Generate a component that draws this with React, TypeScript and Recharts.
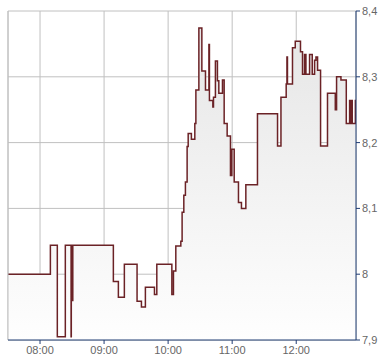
import { ComposedChart, Area, XAxis, YAxis, CartesianGrid, ReferenceLine } from "recharts";

// minutes since midnight
const times = [
  450, 489.7, 496.2, 503.7, 509.1, 509.3, 510, 510.7, 548.7, 553.4,
  559, 570.9, 575, 578.7, 587.2, 589.4, 603.5, 605, 607.2, 611.9,
  613.1, 614.7, 616.2, 617.8, 618.8, 621.8, 625, 626, 628.8, 631.6,
  635, 638.2, 638.7, 641.9, 642.5, 644.3, 646.2, 647.5, 650.9, 652.5,
  655.3, 658.4, 659.7, 661.9, 665.9, 668.7, 672.8, 683.7, 702.5, 705.7,
  710.6, 711.3, 711.8, 716.5, 719.1, 724, 725.9, 727.8, 729.1, 732.5,
  735, 737.2, 738.5, 740, 742.8, 749.3, 756.6, 757.8, 761.9, 766.9,
  770, 771.3, 771.8, 772.5, 775.4, 776,
];

const prices = [
  8.0, 8.044, 7.905, 8.044, 7.905, 8.044, 7.96, 8.044, 7.989, 7.965,
  8.015, 7.959, 7.95, 7.98, 7.969, 8.015, 7.969, 8.005, 8.043, 8.05,
  8.094, 8.12, 8.14, 8.194, 8.214, 8.205, 8.229, 8.28, 8.374, 8.309,
  8.28, 8.349, 8.264, 8.254, 8.269, 8.324, 8.294, 8.275, 8.295, 8.229,
  8.21, 8.15, 8.19, 8.14, 8.109, 8.1, 8.136, 8.244, 8.195, 8.269,
  8.289, 8.33, 8.289, 8.344, 8.354, 8.338, 8.304, 8.334, 8.304, 8.334,
  8.304, 8.325, 8.33, 8.31, 8.195, 8.275, 8.25, 8.3, 8.295, 8.229,
  8.264, 8.229, 8.264, 8.229, 8.264, 8.264,
];

const xTicks = [480, 540, 600, 660, 720];
const yTicks = [7.9, 8, 8.1, 8.2, 8.3, 8.4];

const data = times.map((t, i) => ({ t, price: prices[i] }));

const fmtTime = (m: number) => {
  const h = Math.floor(m / 60);
  const mm = Math.round(m % 60);
  return `${String(h).padStart(2, "0")}:${String(mm).padStart(2, "0")}`;
};
const fmtPrice = (v: number) => String(Math.round(v * 10) / 10).replace(".", ",");

const tickStyle = { fill: "#666", fontSize: 11, fontFamily: "'Liberation Sans', Arial, sans-serif" };

export default function App() {
  return (
    <div style={{ position: "absolute", left: 0, top: 0, width: 390, height: 364, background: "#fff" }}>
      <ComposedChart width={390} height={364} data={data} margin={{ top: 11, right: 0, bottom: 0, left: 8 }}>
        <defs>
          <linearGradient id="fillGrad" x1="0" y1="0" x2="0" y2="1">
            <stop offset="0%" stopColor="#e6e6e6" />
            <stop offset="100%" stopColor="#fefefe" />
          </linearGradient>
        </defs>
        <CartesianGrid stroke="#c0c0c0" strokeWidth={1} />
        <ReferenceLine x={450} stroke="#c0c0c0" />
        <XAxis
          dataKey="t"
          type="number"
          domain={[450, 776]}
          ticks={xTicks}
          tickFormatter={fmtTime}
          allowDataOverflow
          height={24}
          stroke="#1f3c73"
          tickSize={4}
          tick={tickStyle}
          tickLine={{ stroke: "#1f3c73" }}
        />
        <YAxis
          orientation="right"
          type="number"
          domain={[7.9, 8.4]}
          ticks={yTicks}
          tickFormatter={fmtPrice}
          allowDataOverflow
          width={34}
          stroke="#1f3c73"
          tickSize={4}
          tick={tickStyle}
          tickLine={{ stroke: "#1f3c73" }}
        />
        <Area
          type="stepAfter"
          dataKey="price"
          stroke="#6b2226"
          strokeWidth={1.5}
          fill="url(#fillGrad)"
          fillOpacity={1}
          dot={false}
          activeDot={false}
          isAnimationActive={false}
        />
      </ComposedChart>
    </div>
  );
}
